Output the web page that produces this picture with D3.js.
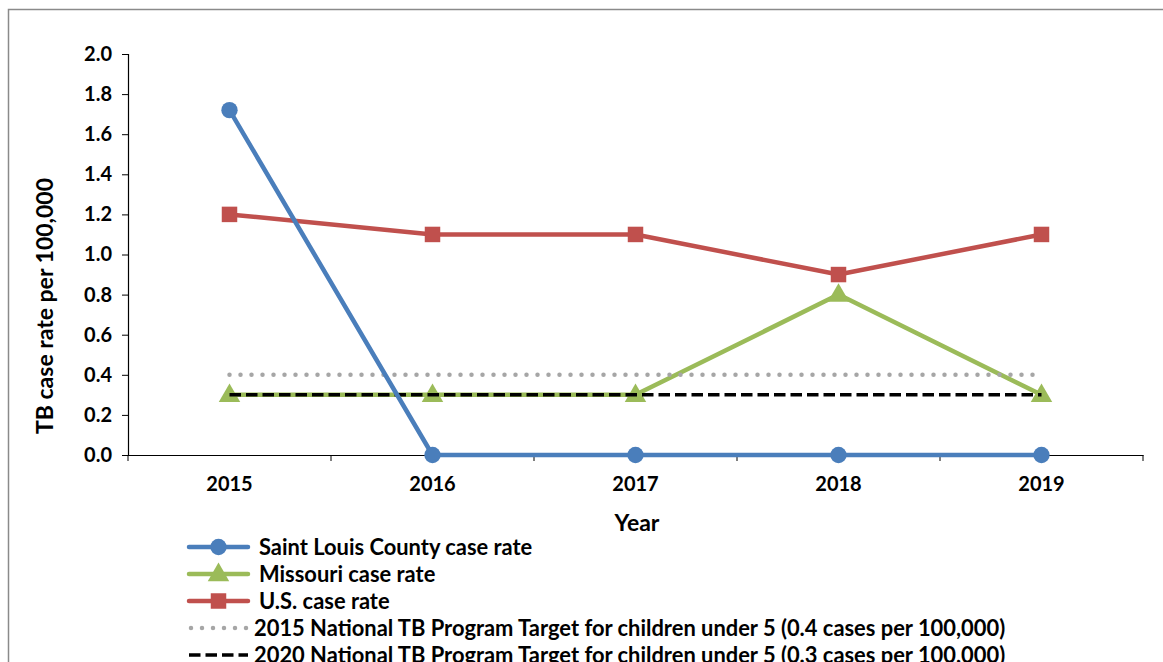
<!DOCTYPE html>
<html><head><meta charset="utf-8">
<script src="https://cdn.jsdelivr.net/npm/d3@7"></script>
<style>
html,body{margin:0;padding:0;background:#fff;}
text{font-family:Lato,"Open Sans",sans-serif;font-weight:bold;fill:#000;}
</style></head>
<body><svg id="chart" width="1163" height="662"></svg>
<script>
const years = ["2015", "2016", "2017", "2018", "2019"];
const stLouis = [1.72, 0, 0, 0, 0];
const missouri = [0.3, 0.3, 0.3, 0.8, 0.3];
const usRate = [1.2, 1.1, 1.1, 0.9, 1.1];
const target2015 = [0.4, 0.4, 0.4, 0.4, 0.4];
const target2020 = [0.3, 0.3, 0.3, 0.3, 0.3];
const yTicks = [0, 0.2, 0.4, 0.6, 0.8, 1.0, 1.2, 1.4, 1.6, 1.8, 2.0];

const svg = d3.select("#chart");

// outer frame
svg.append("path").attr("d", "M8.5,662 V9.5 H1163")
  .attr("fill", "none").attr("stroke", "#8a8a8a").attr("stroke-width", 1.5);

const x = d3.scaleBand().domain(years).range([128, 1143]);
const y = d3.scaleLinear().domain([0, 2]).range([455, 54]);
const cx = d => x(d) + x.bandwidth() / 2;

const yAxis = svg.append("g").attr("transform", "translate(128,0)")
  .call(d3.axisLeft(y).tickValues(yTicks).tickFormat(d3.format(".1f")).tickSize(6).tickPadding(10));
const xAxis = svg.append("g").attr("transform", "translate(0,455)")
  .call(d3.axisBottom(x).tickSize(0).tickPadding(22));
// category boundary ticks
xAxis.selectAll(".bound").data(d3.range(years.length + 1)).enter().append("line")
  .attr("x1", i => 128 + i * x.bandwidth()).attr("x2", i => 128 + i * x.bandwidth())
  .attr("y1", 0).attr("y2", 6).attr("stroke", "#000");
[yAxis, xAxis].forEach(g => {
  g.selectAll("path.domain").attr("stroke", "#000").attr("stroke-width", 1.2);
  g.selectAll("line").attr("stroke", "#000");
  g.selectAll("text").style("font-size", "20px").style("font-family", "Lato, 'Open Sans', sans-serif").style("font-weight", "bold");
});

svg.append("text").attr("transform", "translate(53,306) rotate(-90)")
  .attr("text-anchor", "middle").style("font-size", "23px").text("TB case rate per 100,000");
svg.append("text").attr("x", 637).attr("y", 531)
  .attr("text-anchor", "middle").style("font-size", "23px").text("Year");

const line = d3.line().x((d, i) => cx(years[i])).y(d => y(d));

const series = [
  {name: "Saint Louis County case rate", values: stLouis, color: "#4a7ebb", marker: "circle"},
  {name: "Missouri case rate", values: missouri, color: "#9bbb59", marker: "triangle"},
  {name: "U.S. case rate", values: usRate, color: "#c0504d", marker: "square"}
];
const sym = {
  circle: d3.symbol().type(d3.symbolCircle).size(210),
  triangle: d3.symbol().type(d3.symbolTriangle).size(200),
  square: d3.symbol().type(d3.symbolSquare).size(240)
};

function drawSeries(s) {
  svg.append("path").datum(s.values).attr("d", line).attr("fill", "none")
    .attr("stroke", s.color).attr("stroke-width", 4.5).attr("stroke-linejoin", "round");
  svg.selectAll(null).data(s.values).enter().append("path")
    .attr("d", sym[s.marker])
    .attr("transform", (d, i) => `translate(${cx(years[i])},${y(d) + (s.marker === "triangle" ? 1 : 0)})`)
    .attr("fill", s.color);
}

drawSeries(series[2]);
drawSeries(series[1]);

// target reference lines
svg.append("path").datum(target2015).attr("d", line).attr("fill", "none")
  .attr("stroke", "#a6a6a6").attr("stroke-width", 4.5).attr("stroke-linecap", "round")
  .attr("stroke-dasharray", "0,11");
svg.append("path").datum(target2020).attr("d", line).attr("fill", "none")
  .attr("stroke", "#000").attr("stroke-width", 3.5).attr("stroke-dasharray", "11.5,5");

drawSeries(series[0]);

// legend
const legendRows = [
  {label: series[0].name, color: series[0].color, marker: "circle"},
  {label: series[1].name, color: series[1].color, marker: "triangle"},
  {label: series[2].name, color: series[2].color, marker: "square"},
  {label: "2015 National TB Program Target for children under 5 (0.4 cases per 100,000)", color: "#a6a6a6", dash: "dot"},
  {label: "2020 National TB Program Target for children under 5 (0.3 cases per 100,000)", color: "#000", dash: "dash"}
];
const lg = svg.append("g");
legendRows.forEach((r, i) => {
  const yy = 547 + i * 27;
  const l = lg.append("line").attr("x1", 189).attr("x2", 248).attr("y1", yy).attr("y2", yy)
    .attr("stroke", r.color);
  if (r.dash === "dot") {
    l.attr("stroke-width", 4.5).attr("stroke-linecap", "round").attr("stroke-dasharray", "0,11")
      .attr("x1", 191).attr("x2", 247);
  } else if (r.dash === "dash") {
    l.attr("stroke-width", 3.5).attr("stroke-dasharray", "11.5,5");
  } else {
    l.attr("stroke-width", 4.5).attr("stroke-linecap", "round");
    lg.append("path").attr("d", sym[r.marker]).attr("fill", r.color)
      .attr("transform", `translate(218.5,${yy + (r.marker === "triangle" ? 1 : 0)})`);
  }
  lg.append("text").attr("x", r.dash ? 254 : 259).attr("y", yy + 8)
    .style("font-size", "21.9px").text(r.label);
});
</script></body></html>
